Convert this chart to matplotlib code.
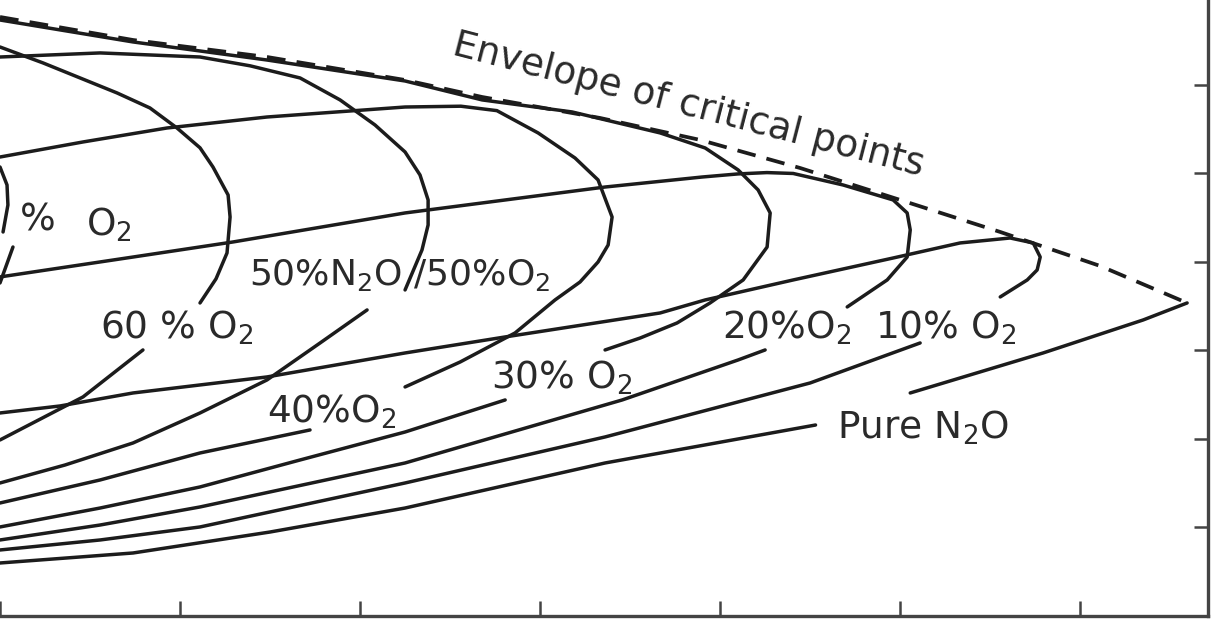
import matplotlib
matplotlib.use("Agg")
import matplotlib.pyplot as plt

# ---------------- data (x = temperature units, y = pressure units) -------------
x_ticks = [0, 10, 20, 30, 40, 50, 60]
y_ticks = [10, 20, 30, 40, 50, 60]

# envelope of critical points (dashed)
env_x = [0, 7.39, 14.83, 22.5, 26.78, 33.33, 38.89, 44.44, 50.0, 55.56, 61.11, 65.94]
env_y = [67.68, 65.08, 63.16, 60.56, 58.64, 56.27, 53.79, 50.62, 47.01, 43.39, 39.55, 35.37]

# 70 % O2 (partly visible)
o70_a_x = [0, 0.39, 0.44, 0.17]
o70_a_y = [50.73, 48.70, 46.44, 43.39]
o70_b_x = [0.72, 0]
o70_b_y = [41.69, 37.63]

# 60 % O2
o60_a_x = [0, 2.39, 6.5, 8.33, 9.83, 11.11, 11.83, 12.67, 12.78, 12.61, 12.0, 11.11]
o60_a_y = [64.29, 62.49, 59.10, 57.4, 55.14, 52.9, 50.73, 47.57, 45.08, 41.02, 38.1, 35.37]
o60_b_x = [7.94, 4.61, 0]
o60_b_y = [30.06, 24.75, 19.89]

# 50 % N2O / 50 % O2
o50_a_x = [0, 5.56, 11.11, 13.9, 16.67, 18.89, 20.83, 22.5, 23.33, 23.78, 23.78, 23.44, 22.5]
o50_a_y = [63.16, 63.62, 63.16, 62.16, 60.79, 58.31, 55.48, 52.43, 49.83, 47.01, 44.18, 41.36, 36.84]
o50_b_x = [20.39, 17.78, 14.83, 11.11, 7.39, 3.61, 0]
o50_b_y = [34.58, 30.85, 26.67, 22.94, 19.55, 17.06, 15.03]

# 40 % O2
o40_a_x = [0, 4.61, 9.28, 14.83, 22.5, 25.6, 27.6, 29.89, 31.94, 33.22, 34.0, 33.78, 33.22, 32.22, 30.83, 28.61, 25.56, 22.5]
o40_a_y = [51.86, 53.56, 55.14, 56.38, 57.51, 57.6, 57.1, 54.58, 51.75, 49.27, 45.08, 41.92, 40.0, 37.74, 35.71, 31.98, 28.70, 25.88]
o40_b_x = [17.22, 11.11, 5.56, 0]
o40_b_y = [21.02, 18.42, 15.37, 12.77]

# 30 % O2
o30_a_x = [0, 7.39, 14.83, 22.5, 26.78, 31.78, 36.67, 39.17, 41.0, 42.11, 42.78, 42.61, 41.28, 39.44, 37.61, 35.56, 33.61]
o30_a_y = [67.34, 64.86, 62.82, 60.45, 58.31, 56.95, 54.58, 52.88, 50.40, 48.14, 45.54, 41.69, 37.97, 35.37, 33.11, 31.41, 30.06]
o30_b_x = [28.06, 22.5, 16.67, 11.11, 5.56, 0]
o30_b_y = [24.41, 20.79, 17.63, 14.58, 12.20, 10.06]

# 20 % O2
o20_a_x = [0, 7.39, 12.94, 22.5, 33.61, 39.0, 41.0, 42.6, 44.06, 46.83, 49.61, 50.39, 50.56, 50.39, 49.28, 47.06]
o20_a_y = [38.31, 40.56, 42.26, 45.54, 48.47, 49.6, 49.95, 50.1, 50.0, 48.70, 47.01, 45.54, 43.62, 40.56, 37.97, 34.92]
o20_b_x = [42.5, 41.0, 34.56, 22.5, 11.11, 5.56, 0]
o20_b_y = [30.06, 28.93, 24.41, 17.29, 12.32, 10.28, 8.59]

# 10 % O2
o10_a_x = [0, 3.33, 7.39, 14.83, 22.5, 28.06, 36.67, 39.17, 44.06, 49.61, 53.33, 56.11, 57.39, 57.78, 57.61, 57.06, 55.56]
o10_a_y = [22.94, 23.73, 25.20, 27.01, 29.72, 31.53, 34.24, 35.71, 37.97, 40.45, 42.15, 42.71, 42.15, 40.56, 39.10, 37.97, 36.05]
o10_b_x = [51.11, 45.0, 33.61, 22.5, 11.11, 5.56, 0]
o10_b_y = [30.85, 26.33, 20.23, 15.03, 10.06, 8.59, 7.46]

# pure N2O
n2o_a_x = [0, 7.39, 15.0, 22.5, 33.61, 45.3]
n2o_a_y = [5.99, 7.12, 9.49, 12.20, 17.29, 21.58]
n2o_b_x = [50.56, 57.94, 63.5, 65.94]
n2o_b_y = [25.20, 29.72, 33.45, 35.37]

labels = [
    # text, x, y, ha, rotation, size
    ("%", 1.1, 44.7, "left", 0, 27),
    ("O$_2$", 4.8, 44.2, "left", 0, 27),
    ("60 % O$_2$", 9.8, 32.54, "center", 0, 27),
    ("50%N$_2$O /50%O$_2$", 22.2, 38.53, "center", 0, 26),
    ("40%O$_2$", 18.4, 23.05, "center", 0, 27),
    ("30% O$_2$", 31.22, 26.89, "center", 0, 27),
    ("20%O$_2$", 43.72, 32.54, "center", 0, 27),
    ("10% O$_2$", 52.5, 32.54, "center", 0, 27),
    ("Pure N$_2$O", 51.28, 21.3, "center", 0, 27),
    ("Envelope of critical points", 38.22, 57.74, "center", -14.5, 27),
]

# ---------------- drawing ----------------
fig = plt.figure(figsize=(12.15, 6.19), dpi=100, facecolor="white")
ax = fig.add_axes([0, 3 / 619, 1208 / 1215, 616 / 619])
ax.set_xlim(0, 67.1)
ax.set_ylim(0, 69.6)

ink = "#1c1c1c"
kw = dict(color=ink, lw=2.5, solid_joinstyle="round", solid_capstyle="round")

ax.plot(env_x, env_y, color=ink, lw=2.7, linestyle=(0, (5, 3)), dash_capstyle="butt")

segments = [
    (o70_a_x, o70_a_y), (o70_b_x, o70_b_y),
    (o60_a_x, o60_a_y), (o60_b_x, o60_b_y),
    (o50_a_x, o50_a_y), (o50_b_x, o50_b_y),
    (o40_a_x, o40_a_y), (o40_b_x, o40_b_y),
    (o30_a_x, o30_a_y), (o30_b_x, o30_b_y),
    (o20_a_x, o20_a_y), (o20_b_x, o20_b_y),
    (o10_a_x, o10_a_y), (o10_b_x, o10_b_y),
    (n2o_a_x, n2o_a_y), (n2o_b_x, n2o_b_y),
]
for sx, sy in segments:
    ax.plot(sx, sy, **kw)

for text, tx, ty, ha, rot, size in labels:
    ax.text(tx, ty, text, ha=ha, va="center", rotation=rot, fontsize=size,
            color="#2a2a2a", family="DejaVu Sans", rotation_mode="anchor")

for side in ("left", "top"):
    ax.spines[side].set_visible(False)
for side in ("right", "bottom"):
    ax.spines[side].set_linewidth(2.4)
    ax.spines[side].set_color("#444444")

ax.set_xticks(x_ticks)
ax.set_yticks(y_ticks)
ax.tick_params(axis="x", direction="in", length=11, width=1.8, color="#444444",
               labelbottom=False, top=False)
ax.tick_params(axis="y", direction="in", length=10, width=1.8, color="#444444",
               left=False, right=True, labelleft=False, labelright=False)

fig.savefig("out.png", dpi=100, facecolor="white")
